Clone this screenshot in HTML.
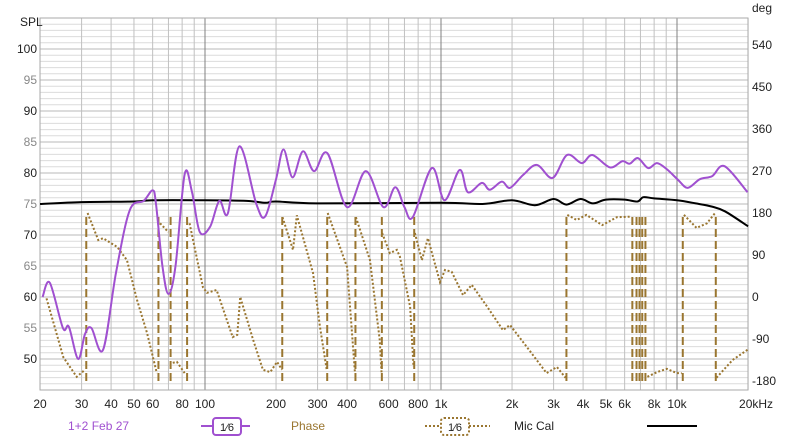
<!DOCTYPE html>
<html><head><meta charset="utf-8">
<style>
html,body{margin:0;padding:0;background:#fff;}
body{width:800px;height:437px;overflow:hidden;font-family:"Liberation Sans",sans-serif;}
svg text{font-family:"Liberation Sans",sans-serif;}
</style></head>
<body>
<svg id="chart" width="800" height="437" viewBox="0 0 800 437" xmlns="http://www.w3.org/2000/svg">
<g id="grid"></g>
<g id="axes"></g>
<g id="series"></g>
<text x="20" y="26" font-size="12" fill="#222">SPL</text>
<text x="752" y="12" font-size="12" fill="#222">deg</text>
<g>
<text x="68" y="430" font-size="12" fill="#a050d0">1+2 Feb 27</text>
<line x1="201" y1="426" x2="250" y2="426" stroke="#a050d0" stroke-width="2"/>
<rect x="213" y="418" width="28" height="17" rx="3" fill="#fff" stroke="#a050d0" stroke-width="2"/>
<text x="227" y="431" font-size="11" fill="#222" text-anchor="middle">1⁄6</text>
<text x="291" y="430" font-size="12" fill="#9a7630">Phase</text>
<line x1="425" y1="426" x2="490" y2="426" stroke="#9a7630" stroke-width="2" stroke-dasharray="2,2"/>
<rect x="441" y="418" width="28" height="17" rx="3" fill="#fff" stroke="#9a7630" stroke-width="2" stroke-dasharray="2,2"/>
<text x="455" y="431" font-size="11" fill="#222" text-anchor="middle">1⁄6</text>
<text x="514" y="430" font-size="12" fill="#222">Mic Cal</text>
<line x1="647" y1="426" x2="697" y2="426" stroke="#000" stroke-width="2"/>
</g>
</svg>
<script>
const splFreq=[20.5,22,25,26.5,29,31,33,37,42,48,55,60,62,66,70,75,82,88,95,105,115,125,140,165,180,200,215,235,260,290,330,400,480,570,640,700,760,915,1035,1200,1300,1490,1610,1810,1960,2230,2550,2970,3420,3950,4380,5200,5860,6300,6830,7540,8230,9060,10100,11100,12500,14100,15900,19900];
const splVal=[60,62.3,55,55.2,50,54,55,51.5,64,74,75.5,77.2,75,65,60.5,65,79.8,77,70.5,71.3,75.5,73.5,84.3,75,73,79,83.8,79.3,83.5,80.3,83.2,74.5,80.3,74.5,77.7,74.5,72.9,80.8,75.6,80.5,76.9,78.4,77.3,78.6,77.6,79.7,81.3,79.2,82.9,81.6,82.9,80.9,81.9,81.5,82.4,80.8,81.6,80.6,78.9,77.6,79,79.5,81.1,76.9];
const calFreq=[20,30,50,60,100,150,180,200,300,1000,1500,2000,2500,3000,3400,3900,4400,5000,6000,6800,7200,8000,10000,12000,14000,16000,20000];
const calVal=[75,75.3,75.4,75.6,75.6,75.5,75.2,75.4,75.1,75.2,75,75.6,74.8,75.8,74.9,75.8,75.1,75.7,75.7,75.4,76.1,75.9,75.6,75.1,74.6,73.8,71.4];
const phFreq=[21.3,25.1,28.6,31,31.8,35.3,37,42.5,46.7,51.5,56.8,62.5,64.5,70,73,76,82,86,98,102,112,131,137,141,160,176,189,202,212,213,236,245,287,307,328,331,373,400,432,436,500,550,560,563,607,650,670,740,765,775,830,880,990,1040,1110,1240,1350,1570,1830,1960,2310,2800,3100,3370,3430,3760,4130,4820,5560,6300,6640,6835,7040,7210,7490,8230,9060,9980,10460,10700,12100,13400,14500,14700,17200,19900];
const phVal=[-3,-129,-171,-156,180,122,126,107,79,-6,-77,-163,158,139,-141,-139,-163,158,21,9,15,-86,-81,0,-92,-156,-161,-139,-156,171,101,175,51,-64,-156,180,107,64,-163,171,79,-92,-163,137,94,101,86,-21,-150,137,79,126,32,58,54,4,26,-21,-71,-60,-107,-163,-150,-173,176,165,176,154,171,172,-178,178,-178,178,-171,-161,-154,-163,-163,176,148,158,180,-173,-135,-113];
const splTicks=[50,55,60,65,70,75,80,85,90,95,100];
const phTicks=[-180,-90,0,90,180,270,360,450,540];
const xTicks=[20,30,40,50,60,80,100,200,300,400,600,800,1000,2000,3000,4000,5000,6000,8000,10000,20000];
const xTickLabels=["20","30","40","50","60","80","100","200","300","400","600","800","1k","2k","3k","4k","5k","6k","8k","10k","20kHz"];

const L=40,R=748,T=18,B=390;
const NS="http://www.w3.org/2000/svg";
function xs(f){return 205+236*Math.log10(f/100);}
function ys(v){return 49+(100-v)*6.2;}
function yp(d){return 297-d*0.4667;}
function mk(tag,attrs,parent){const e=document.createElementNS(NS,tag);for(const k in attrs)e.setAttribute(k,attrs[k]);parent.appendChild(e);return e;}
const grid=document.getElementById('grid'),axes=document.getElementById('axes'),series=document.getElementById('series');
mk('rect',{x:L,y:T,width:R-L,height:B-T,fill:'#fff'},grid);
for(let v=45;v<=105;v++){
  const y=ys(v);if(y<T||y>B)continue;
  const ln=mk('line',{x1:L,x2:R,y1:y,y2:y,stroke:v%5===0?'#b8b8b8':'#dcdcdc','stroke-width':1},grid);
  
  
}
for(let d=10;d<=10000;d*=10){for(let m=1;m<10;m++){const f=d*m;if(f<20||f>20000)continue;const x=xs(f);
  const ln=mk('line',{x1:x,x2:x,y1:T,y2:B,stroke:m===1?'#808080':'#c0c0c0','stroke-width':1},grid);
  
  }}
mk('line',{x1:xs(20000),x2:xs(20000),y1:T,y2:B,stroke:'#c0c0c0'},grid);
mk('rect',{x:L,y:T,width:R-L,height:B-T,fill:'none',stroke:'#aaa'},grid);
splTicks.forEach(v=>{const t=mk('text',{x:37,y:ys(v)+4,'font-size':12,'text-anchor':'end',fill:v%10===0?'#222':'#888'},axes);t.textContent=v;
  
  });
phTicks.forEach(v=>{const t=mk('text',{x:752,y:yp(v)+4,'font-size':12,fill:'#222'},axes);t.textContent=v;
  
  });
xTicks.forEach((f,i)=>{const t=mk('text',{x:xs(f),y:408,'font-size':12,'text-anchor':i===xTicks.length-1?'start':'middle',fill:'#222'},axes);
  if(i===xTicks.length-1)t.setAttribute('x',xs(f)-9);
  t.textContent=xTickLabels[i];
  
  });

// phase
let seg=[];const segs=[];const wraps=[];
for(let i=0;i<phFreq.length;i++){
  if(i>0&&Math.abs(phVal[i]-phVal[i-1])>250){segs.push(seg);seg=[];wraps.push((xs(phFreq[i])+xs(phFreq[i-1]))/2);}
  seg.push([xs(phFreq[i]),yp(phVal[i])]);
}
segs.push(seg);
segs.forEach(s=>{const p=mk('polyline',{points:s.map(q=>q.join(',')).join(' '),fill:'none',stroke:'#9a7630','stroke-width':2,'stroke-dasharray':'2,2'},series);
  
  });
wraps.forEach(x=>{const l=mk('line',{x1:x,x2:x,y1:yp(-180),y2:yp(180),stroke:'#9a7630','stroke-width':2,'stroke-dasharray':'8,4'},series);
  
  });

function smoothPath(pts){
  let d='M'+pts[0][0]+','+pts[0][1];
  for(let i=0;i<pts.length-1;i++){
    const p0=pts[i-1]||pts[i],p1=pts[i],p2=pts[i+1],p3=pts[i+2]||p2;
    const c1=[p1[0]+(p2[0]-p0[0])/6,p1[1]+(p2[1]-p0[1])/6],c2=[p2[0]-(p3[0]-p1[0])/6,p2[1]-(p3[1]-p1[1])/6];
    d+=' C'+c1.join(',')+' '+c2.join(',')+' '+p2.join(',');
  }
  return d;
}
const cal=mk('path',{d:smoothPath(calFreq.map((f,i)=>[xs(f),ys(calVal[i])])),fill:'none',stroke:'#000','stroke-width':2},series);


const spl=mk('path',{d:smoothPath(splFreq.map((f,i)=>[xs(f),ys(splVal[i])])),fill:'none',stroke:'#a050d0','stroke-width':2},series);


</script>
</body></html>
